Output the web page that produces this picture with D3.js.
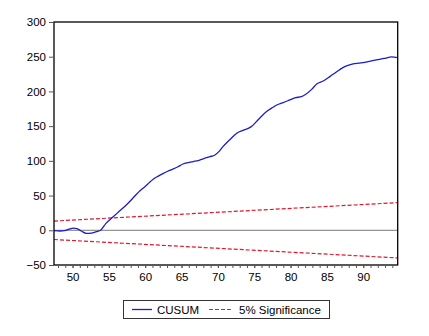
<!DOCTYPE html>
<html><head><meta charset="utf-8">
<script src="https://cdn.jsdelivr.net/npm/d3@7"></script>
<style>html,body{margin:0;padding:0;background:#fff;}svg{display:block;}</style>
</head><body>
<script>
const years = [47.45,48.3,48.9,49.5,50.1,50.6,51.2,51.9,52.6,53.3,53.9,54.6,55.6,56.5,57.4,58.1,58.8,59.4,60.0,60.6,61.1,61.8,62.5,63.1,63.8,64.5,65.2,65.9,66.6,67.3,68.0,68.9,69.6,70.2,70.7,71.6,72.6,73.6,74.6,75.6,76.7,77.4,78.1,79.0,79.9,80.7,81.5,82.1,82.9,83.6,84.5,85.4,86.3,87.2,87.9,88.6,89.4,90.2,91.0,91.8,92.9,93.9,94.74];
const cusum = [-0.5,-1,-0.5,1.5,3,2.5,-1,-4.5,-4,-2,0.5,10,19.6,28,36.5,44,52,58,63,69,73.5,78,82,85,88,91.5,95.5,97.5,99,100.5,103,106,108.5,114,120.5,130,139.8,144.5,149.3,160,171,176,180.5,184,187.7,191,192.5,196,203,210.8,215,221.3,228,234.3,237.5,239.6,240.8,242,243.8,245.4,247.5,249.7,248.7];
const bandYears = [47.45, 94.74];
const upper = [13.3, 39.8];
const lower = [-13.3, -39.8];
const yTicks = [-50, 0, 50, 100, 150, 200, 250, 300];
const xLabels = [50, 55, 60, 65, 70, 75, 80, 85, 90];
const xMinor = d3.range(48, 95);
const legendLabels = ["CUSUM", "5% Significance"];

const W = 429, H = 336;
const font = "'Liberation Sans', Arial, sans-serif";
const svg = d3.select("body").append("svg").attr("width", W).attr("height", H);
const x = d3.scaleLinear().domain([47.45, 94.74]).range([54, 397.7]);
const y = d3.scaleLinear().domain([-50, 300]).range([265, 22]);

// zero line
svg.append("line").attr("x1", x.range()[0]).attr("x2", x.range()[1])
  .attr("y1", y(0)).attr("y2", y(0)).attr("stroke", "#7a7a7a").attr("stroke-width", 1);

// bands
const lineB = d3.line().x((d, i) => x(bandYears[i])).y(d => y(d));
[upper, lower].forEach(arr => {
  svg.append("path").datum(arr).attr("d", lineB).attr("fill", "none")
    .attr("stroke", "#e3172d").attr("stroke-width", 1.2).attr("stroke-dasharray", "4,2");
});

// cusum
const lineC = d3.line().x((d, i) => x(years[i])).y(d => y(d)).curve(d3.curveMonotoneX);
svg.append("path").datum(cusum).attr("d", lineC).attr("fill", "none")
  .attr("stroke", "#1c1cc8").attr("stroke-width", 1.3);

// frame
svg.append("rect").attr("x", 54).attr("y", 22).attr("width", 397.7 - 54).attr("height", 265 - 22)
  .attr("fill", "none").attr("stroke", "#000").attr("stroke-width", 1.3);

// y axis
const yAxis = d3.axisLeft(y).tickValues(yTicks).tickSize(5).tickPadding(3).tickFormat(d3.format("d"));
const gy = svg.append("g").attr("transform", "translate(54,0)").call(yAxis);
gy.select(".domain").remove();
gy.selectAll("text").attr("font-family", font).attr("font-size", "11.5px").attr("fill", "#000");
gy.selectAll("line").attr("stroke", "#555");

// x axis minor ticks
const gxm = svg.append("g").attr("transform", "translate(0,265)")
  .call(d3.axisBottom(x).tickValues(xMinor).tickSize(3).tickFormat(""));
gxm.select(".domain").remove();
gxm.selectAll("line").attr("stroke", "#555");
const gx = svg.append("g").attr("transform", "translate(0,265)")
  .call(d3.axisBottom(x).tickValues(xLabels).tickSize(3).tickPadding(5).tickFormat(d3.format("d")));
gx.select(".domain").remove();
gx.selectAll("line").attr("stroke", "#555");
gx.selectAll("text").attr("font-family", font).attr("font-size", "11.5px").attr("fill", "#000");

// legend
const lg = svg.append("g");
lg.append("rect").attr("x", 123.5).attr("y", 300.5).attr("width", 206).attr("height", 18)
  .attr("fill", "#fff").attr("stroke", "#333").attr("stroke-width", 1);
lg.append("line").attr("x1", 132).attr("x2", 152).attr("y1", 309.5).attr("y2", 309.5)
  .attr("stroke", "#1c1cc8").attr("stroke-width", 1.3);
lg.append("text").attr("x", 157).attr("y", 313.8).text(legendLabels[0])
  .attr("font-family", font).attr("font-size", "11.5px").attr("fill", "#000");
lg.append("line").attr("x1", 209).attr("x2", 233).attr("y1", 309.5).attr("y2", 309.5)
  .attr("stroke", "#e3172d").attr("stroke-width", 1.2).attr("stroke-dasharray", "4,2");
lg.append("text").attr("x", 239).attr("y", 313.8).text(legendLabels[1])
  .attr("font-family", font).attr("font-size", "11.5px").attr("fill", "#000");
</script>
</body></html>
